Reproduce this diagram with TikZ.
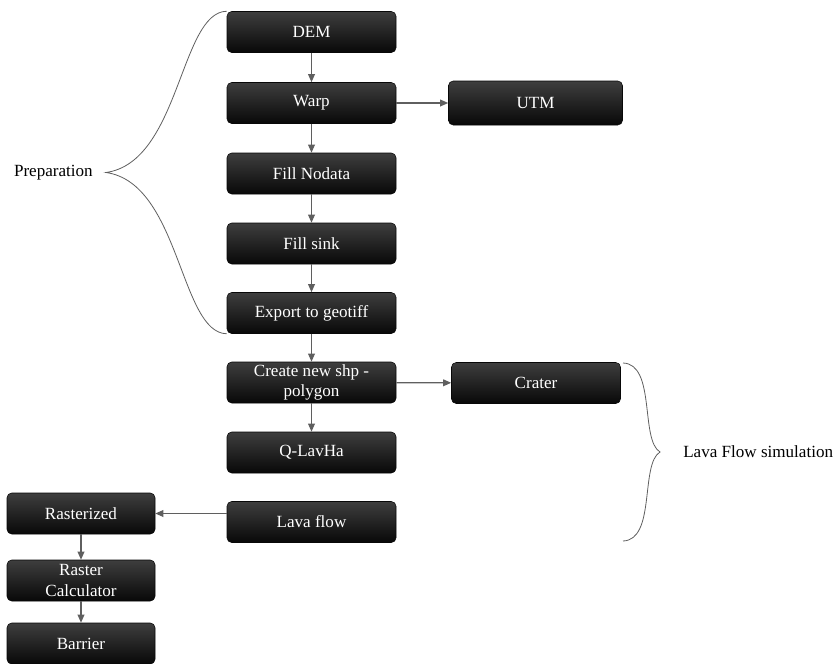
\documentclass[tikz,border=0pt]{standalone}
\usepackage{fontspec}
\setmainfont{Liberation Serif}
\definecolor{flowgray} {RGB}{95,95,95}
\definecolor{flowtop}  {RGB}{62,62,62}
\definecolor{flowbot}  {RGB}{8,8,8}
\usetikzlibrary{arrows.meta,positioning}
\tikzset{
  box/.style={rectangle,rounded corners=3.5pt,draw=flowbot,
              top color=flowtop,bottom color=flowbot,
              text=white,minimum height=30.75pt,minimum width=126.75pt,
              font=\fontsize{12.8}{15.5}\selectfont,align=center,inner sep=1pt},
  sidebox/.style={box,minimum width=111pt},
  arr/.style={-{Triangle[length=6pt,width=5pt]},line width=0.9pt,flowgray},
  brace/.style={flowgray,line width=0.6pt},
}
\begin{document}
\begin{tikzpicture}[x=0.75pt,y=-0.75pt]
    \useasboundingbox (0,0) rectangle (836,664);
    % preparation column
    \node[box] (dem)    at (311.5,32)    {DEM};
    \node[box] (warp)   at (311.5,103)   {Warp};
    \node[box,minimum width=130.5pt,minimum height=33pt] (utm) at (535.5,103) {UTM};
    \node[box] (nodata) at (311.5,173.5) {Fill Nodata};
    \node[box] (sink)   at (311.5,243.5) {Fill sink};
    \node[box] (export) at (311.5,313)   {Export to geotiff};
    % lava flow simulation
    \node[box] (shp)    at (311.5,382.5) {Create new shp -\\polygon};
    \node[box] (crater) at (536,383)     {Crater};
    \node[box] (qlavha) at (311.5,452.5) {Q-LavHa};
    \node[box] (lava)   at (311.5,522)   {Lava flow};
    % barrier
    \node[sidebox] (raster)  at (81,513.5)  {Rasterized};
    \node[sidebox] (calc)    at (81,580.5)  {Raster\\Calculator};
    \node[sidebox] (barrier) at (81,643.5)  {Barrier};

    \draw[arr] (dem) -- (warp);
    \draw[arr] (warp) -- (utm);
    \draw[arr] (warp) -- (nodata);
    \draw[arr] (nodata) -- (sink);
    \draw[arr] (sink) -- (export);
    \draw[arr] (export) -- (shp);
    \draw[arr] (shp) -- (crater);
    \draw[arr] (shp) -- (qlavha);
    \draw[arr] (raster.east -| lava.west) -- (raster.east);
    \draw[arr] (raster) -- (calc);
    \draw[arr] (calc) -- (barrier);

    % braces
    \coordinate (ptop) at (dem.north west);
    \coordinate (pbot) at (export.south west);
    \coordinate (ptip) at (106,172.5);
    \draw[brace] (ptop) .. controls (180,12) and (180,162) .. (ptip)
                        .. controls (180,183) and (180,333) .. (pbot);
    \node[anchor=east,inner sep=0pt,font=\fontsize{12.8}{15}\selectfont] (prep) at (93,172.5) {Preparation};

    \coordinate (ltop) at (623,363);
    \coordinate (lbot) at (623,541);
    \coordinate (ltip) at (660,452);
    \draw[brace] (ltop) .. controls (656,364) and (640,440) .. (ltip)
                        .. controls (640,464) and (656,540) .. (lbot);
    \node[anchor=west,inner sep=0pt,font=\fontsize{12.8}{15}\selectfont] (lfs) at (683,452) {Lava Flow simulation};
\end{tikzpicture}
\end{document}
